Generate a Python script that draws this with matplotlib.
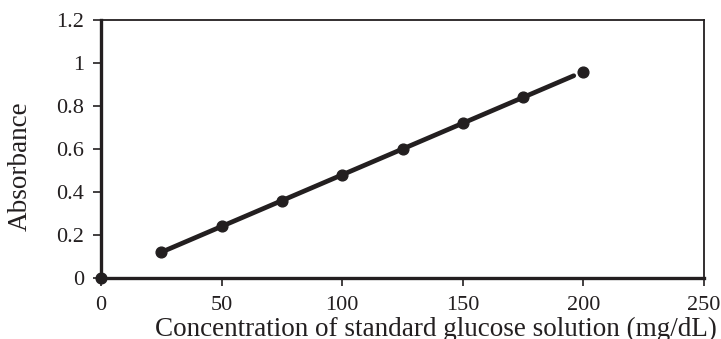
import matplotlib
matplotlib.use("Agg")
import matplotlib.pyplot as plt
import numpy as np

conc = [0, 25, 50, 75, 100, 125, 150, 175, 200]
absorbance = [0, 0.12, 0.24, 0.36, 0.48, 0.60, 0.72, 0.84, 0.96]
line_x_range = [25, 196]

xticks = [0, 50, 100, 150, 200, 250]
yticks = [0, 0.2, 0.4, 0.6, 0.8, 1.0, 1.2]
ytick_labels = ["0", "0.2", "0.4", "0.6", "0.8", "1", "1.2"]

plt.rcParams['font.family'] = ['Liberation Serif', 'DejaVu Serif']

fig = plt.figure(figsize=(7.21, 3.39), dpi=100)
ax = fig.add_axes([101/721, 1-278/339, (704-101)/721, (278-20)/339])

# trendline
c = np.polyfit(conc[1:], absorbance[1:], 1)
lx = np.array(line_x_range)
ax.plot(lx, np.polyval(c, lx), color='#231f20', lw=3.4, solid_capstyle='round', zorder=2)
ax.scatter(conc, absorbance, s=60, color='#231f20', zorder=3, clip_on=False)

ax.set_xlim(0, 250)
ax.set_ylim(0, 1.2)
ax.set_xticks(xticks)
ax.set_xticklabels([str(t) for t in xticks])
ax.set_yticks(yticks)
ax.set_yticklabels(ytick_labels)
ax.tick_params(direction='out', length=6, width=1.2, color='#231f20', labelsize=16, labelcolor='#231f20', pad=6)
ax.tick_params(axis='x', pad=7)

for s in ['left', 'bottom']:
    ax.spines[s].set_linewidth(2.4)
    ax.spines[s].set_color('#231f20')
for s in ['top', 'right']:
    ax.spines[s].set_linewidth(1.3)
    ax.spines[s].set_color('#231f20')

fig.text(436/721, 3/339, 'Concentration of standard glucose solution (mg/dL)', fontsize=19.5,
         color='#231f20', ha='center', va='baseline')
fig.text(20/721, 1-166/339, 'Absorbance', fontsize=19.5, color='#231f20',
         ha='center', va='center', rotation=90)

fig.savefig('out.png', dpi=100)
